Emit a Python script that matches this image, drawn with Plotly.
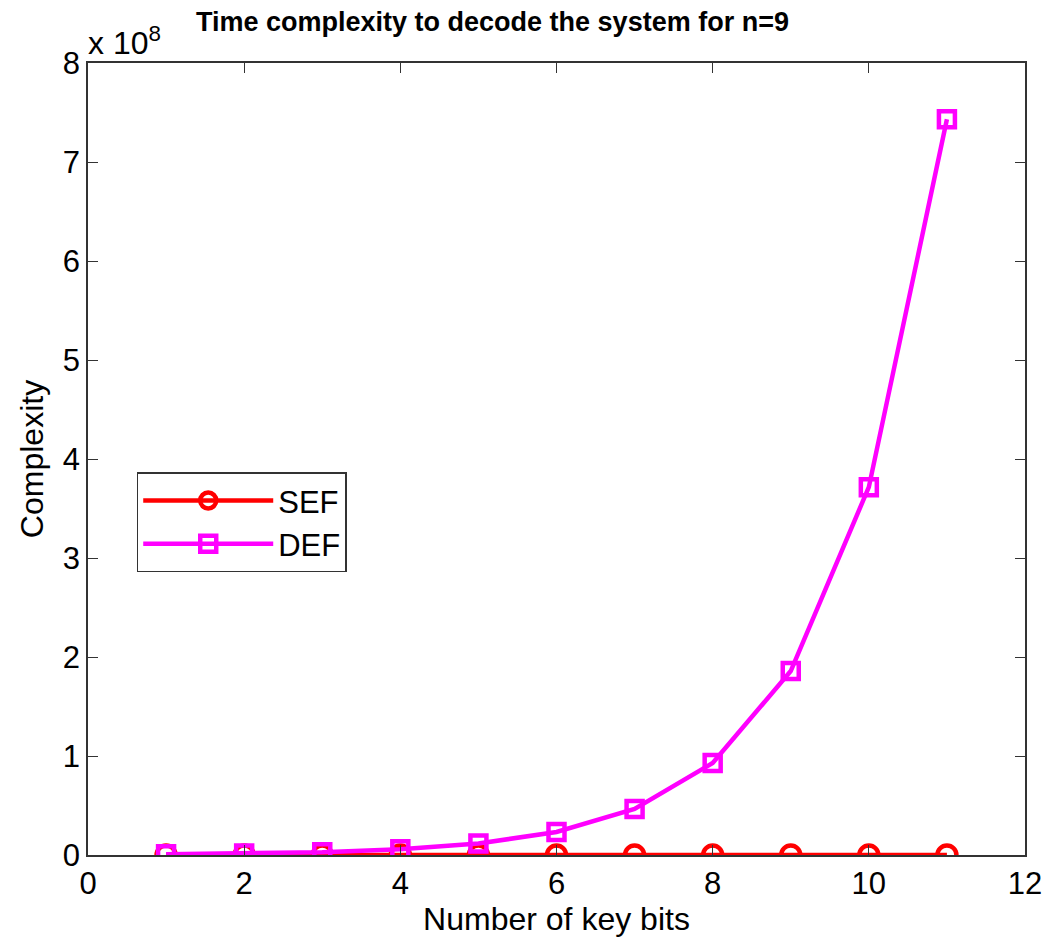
import plotly.graph_objects as go

key_bits = [1, 2, 3, 4, 5, 6, 7, 8, 9, 10, 11]
sef = [18, 36, 72, 144, 288, 576, 1152, 2304, 4608, 9216, 18432]
def_vals = [725760, 1451520, 2903040, 5806080, 11612160, 23224320, 46448640,
            92897280, 185794560, 371589120, 743178240]
y_tickvals = [0, 1e8, 2e8, 3e8, 4e8, 5e8, 6e8, 7e8, 8e8]
y_ticktext = ["0", "1", "2", "3", "4", "5", "6", "7", "8"]
x_tickvals = [0, 2, 4, 6, 8, 10, 12]

FONT = "Liberation Sans, Arial, sans-serif"

fig = go.Figure()
fig.add_trace(go.Scatter(
    x=key_bits, y=sef, name="SEF", mode="lines+markers",
    line=dict(color="#ff0000", width=4.5),
    marker=dict(symbol="circle-open", size=19, color="#ff0000", line=dict(width=4.5)),
))
fig.add_trace(go.Scatter(
    x=key_bits, y=def_vals, name="DEF", mode="lines+markers",
    line=dict(color="#ff00ff", width=4.5),
    marker=dict(symbol="square-open", size=16, color="#ff00ff", line=dict(width=4.5)),
))

axis_common = dict(
    showgrid=False, zeroline=False, showline=True, linecolor="#333333", linewidth=1.5,
    mirror="ticks", ticks="inside", ticklen=10, tickcolor="#333333",
    tickfont=dict(family=FONT, size=31, color="#000000"),
)

fig.update_layout(
    width=1054, height=949,
    margin=dict(l=88, r=22, t=63, b=94),
    paper_bgcolor="white", plot_bgcolor="white",
    showlegend=True,
    legend=dict(
        x=0.052, y=0.42, xanchor="left", yanchor="middle",
        bgcolor="white", bordercolor="#333333", borderwidth=1.5,
        font=dict(family=FONT, size=31, color="#000000"),
        itemwidth=130, tracegroupgap=4,
    ),
    xaxis=dict(range=[0, 12], tickvals=x_tickvals,
               title=dict(text="Number of key bits", font=dict(family=FONT, size=32, color="#000"), standoff=4),
               **axis_common),
    yaxis=dict(range=[0, 8e8], tickvals=y_tickvals, ticktext=y_ticktext,
               title=dict(text="Complexity", font=dict(family=FONT, size=32, color="#000"), standoff=10),
               **axis_common),
    annotations=[
        dict(text="<b>Time complexity to decode the system for n=9</b>", xref="paper", yref="paper",
             x=0.432, y=1.0, yshift=41, xanchor="center", yanchor="middle", showarrow=False,
             font=dict(family=FONT, size=27, color="#000")),
        dict(text="x 10<sup>8</sup>", xref="paper", yref="paper",
             x=0.0, y=1.0, yshift=22, xshift=-2, xanchor="left", yanchor="middle", showarrow=False,
             font=dict(family=FONT, size=32, color="#000")),
    ],
)

fig.write_html("out.html")
